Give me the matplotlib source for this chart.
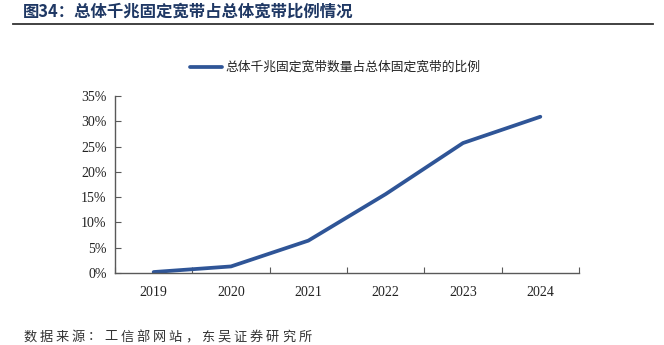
import matplotlib
matplotlib.use("Agg")
import matplotlib.pyplot as plt
from matplotlib.lines import Line2D
from matplotlib.ticker import FuncFormatter, FixedLocator

years = ["2019", "2020", "2021", "2022", "2023", "2024"]
share = [0.19, 1.3, 6.4, 15.6, 25.7, 30.9]  # percent
y_ticks = [0, 5, 10, 15, 20, 25, 30, 35]

title = "图34：总体千兆固定宽带占总体宽带比例情况"
series_name = "总体千兆固定宽带数量占总体固定宽带的比例"
source = "数据来源：工信部网站，东吴证券研究所"

W, H = 664, 345
fig = plt.figure(figsize=(W / 100, H / 100), dpi=100)
cjk = ["Noto Sans CJK SC", "DejaVu Sans"]
serif = ["Liberation Serif", "Noto Sans CJK SC"]

line_color = "#2F5597"

ax = fig.add_axes([115 / W, 1 - 273 / H, (579 - 115) / W, (273 - 96) / H])
x = list(range(len(years)))
ax.plot(x, share, color=line_color, lw=2.7, solid_capstyle="round")

ax.set_xlim(-0.5, len(years) - 0.5)
ax.set_ylim(0, 35)
ax.set_yticks(y_ticks)
ax.yaxis.set_major_formatter(FuncFormatter(lambda v, p: f"{v:.0f}%"))

ax.xaxis.set_major_locator(FixedLocator([i - 0.5 for i in range(len(years) + 1)]))
ax.xaxis.set_major_formatter(FuncFormatter(lambda v, p: ""))
ax.xaxis.set_minor_locator(FixedLocator(x))
ax.set_xticklabels(years, minor=True)
ax.tick_params(axis="x", which="minor", length=0, pad=9)
ax.tick_params(axis="x", which="major", direction="in", length=4, color="#595959")
ax.tick_params(axis="y", direction="in", length=4, color="#595959", pad=6)

for lab in ax.get_xticklabels(minor=True) + ax.get_yticklabels():
    lab.set_family(serif)
    lab.set_fontsize(10)
    lab.set_color("#222222")

for s in ("top", "right"):
    ax.spines[s].set_visible(False)
for s in ("left", "bottom"):
    ax.spines[s].set_color("#595959")
    ax.spines[s].set_linewidth(1.0)

# legend drawn in figure coordinates above the plot
fig.add_artist(Line2D([190 / W, 222 / W], [1 - 67 / H, 1 - 67 / H],
                      color=line_color, lw=2.7, solid_capstyle="round"))
fig.text(225 / W, 1 - 67 / H, series_name, family=cjk, fontsize=9.2,
         va="center", ha="left", color="#222222")

# header
fig.text(23 / W, 1 - 12 / H, title, family=cjk, fontsize=11.8, fontweight="bold",
         va="center", ha="left", color="#1F3864")
fig.add_artist(Line2D([13 / W, 653 / W], [1 - 24 / H, 1 - 24 / H],
                      color="#333333", lw=1.3))

# footer, set with a fixed character pitch
pitch = 16.2
for i, ch in enumerate(source):
    fig.text((23 + i * pitch) / W, 1 - 337 / H, ch, family=cjk, fontsize=9.5,
             va="center", ha="left", color="#333333")

fig.savefig("out.png", dpi=100, facecolor="white")
